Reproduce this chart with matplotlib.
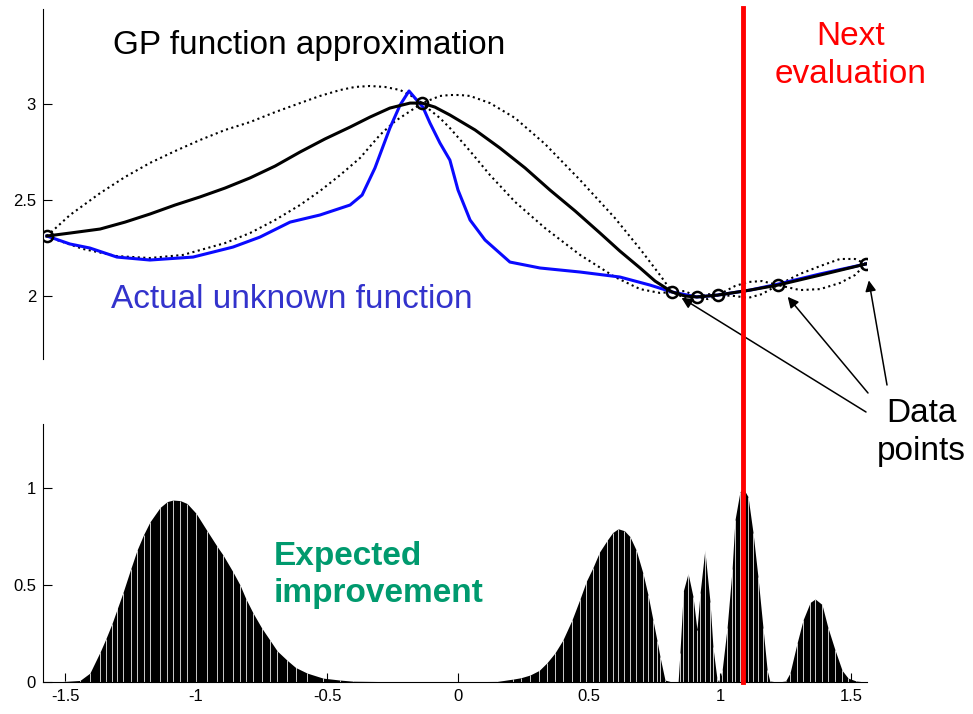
import matplotlib
matplotlib.use("Agg")
import matplotlib.pyplot as plt
import matplotlib.transforms as mtransforms
from matplotlib.lines import Line2D

plt.rcParams.update({
    "font.family": ["Liberation Sans", "DejaVu Sans"],
    "font.size": 12,
    "axes.unicode_minus": False})

# observed samples (x, f(x))
x_obs = [-1.569, -0.137, 0.817, 0.912, 0.992, 1.221, 1.557]
y_obs = [2.3125, 3.005, 2.021, 1.995, 2.005, 2.057, 2.167]

# true objective
x_true = [-1.569, -1.481, -1.405, -1.302, -1.176, -1.011, -0.859, -0.756, -0.641,
          -0.527, -0.412, -0.366, -0.317, -0.260, -0.221, -0.187, -0.164, -0.134,
          -0.107, -0.069, -0.031, 0.0, 0.046, 0.103, 0.198, 0.313, 0.466, 0.618,
          0.733, 0.817, 0.912, 0.992, 1.115, 1.221, 1.382, 1.557]
y_true = [2.3125, 2.271, 2.25, 2.203, 2.1875, 2.203, 2.255, 2.307, 2.385,
          2.422, 2.474, 2.526, 2.667, 2.875, 2.995, 3.068, 3.031, 2.984,
          2.901, 2.797, 2.708, 2.552, 2.396, 2.292, 2.177, 2.146, 2.125, 2.099,
          2.057, 2.021, 1.995, 2.005, 2.031, 2.062, 2.115, 2.167]

# GP posterior mean
x_mean = [-1.569, -1.481, -1.366, -1.271, -1.176, -1.080, -0.985, -0.889, -0.794,
          -0.698, -0.603, -0.508, -0.412, -0.336, -0.260, -0.183, -0.137, -0.088,
          -0.031, 0.065, 0.160, 0.256, 0.351, 0.447, 0.542, 0.618, 0.695, 0.752,
          0.817, 0.866, 0.912, 0.992, 1.115, 1.221, 1.382, 1.557]
y_mean = [2.3125, 2.328, 2.349, 2.385, 2.427, 2.474, 2.516, 2.5625, 2.615,
          2.677, 2.75, 2.818, 2.880, 2.932, 2.979, 3.005, 3.005, 2.984,
          2.943, 2.865, 2.771, 2.667, 2.552, 2.443, 2.328, 2.234, 2.146, 2.078,
          2.021, 2.0, 1.995, 2.005, 2.031, 2.057, 2.109, 2.167]

# GP confidence band
x_upper = [-1.569, -1.481, -1.366, -1.271, -1.176, -1.080, -0.985, -0.889, -0.794,
           -0.698, -0.603, -0.527, -0.450, -0.393, -0.336, -0.279, -0.221, -0.183,
           -0.137, -0.107, -0.069, -0.031, 0.008, 0.046, 0.122, 0.218, 0.332, 0.466,
           0.599, 0.695, 0.771, 0.817, 0.866, 0.912, 0.954, 0.992, 1.057, 1.107,
           1.160, 1.221, 1.305, 1.382, 1.458, 1.515, 1.557]
y_upper = [2.3125, 2.422, 2.536, 2.620, 2.693, 2.755, 2.8125, 2.865, 2.906,
           2.958, 3.005, 3.042, 3.073, 3.089, 3.094, 3.089, 3.073, 3.047,
           3.005, 3.021, 3.042, 3.047, 3.047, 3.042, 3.005, 2.927, 2.792, 2.604,
           2.406, 2.245, 2.109, 2.021, 2.026, 1.995, 2.010, 2.005, 2.052, 2.073,
           2.078, 2.057, 2.115, 2.156, 2.193, 2.193, 2.167]
x_lower = [-1.569, -1.531, -1.431, -1.302, -1.176, -1.050, -0.889, -0.794, -0.698,
           -0.603, -0.527, -0.450, -0.374, -0.298, -0.240, -0.176, -0.137, -0.107,
           -0.069, -0.031, 0.046, 0.122, 0.218, 0.332, 0.466, 0.599, 0.695, 0.771,
           0.817, 0.866, 0.912, 0.954, 0.992, 1.057, 1.107, 1.160, 1.221, 1.305,
           1.382, 1.458, 1.515, 1.557]
y_lower = [2.3125, 2.292, 2.245, 2.208, 2.198, 2.214, 2.276, 2.328, 2.396,
           2.474, 2.547, 2.630, 2.719, 2.839, 2.911, 2.969, 3.005, 2.969,
           2.927, 2.875, 2.755, 2.630, 2.490, 2.354, 2.214, 2.099, 2.036, 2.016,
           2.021, 1.99, 1.995, 1.984, 2.005, 2.0, 1.99, 2.01, 2.057, 2.031,
           2.036, 2.068, 2.109, 2.167]

# expected improvement
x_ei = [-1.58, -1.50, -1.443, -1.405, -1.366, -1.345, -1.321, -1.30, -1.279, -1.25,
        -1.225, -1.20, -1.176, -1.137, -1.11, -1.088, -1.06, -1.034, -1.00, -0.958,
        -0.92, -0.897, -0.86, -0.832, -0.81, -0.782, -0.75, -0.718, -0.69, -0.653,
        -0.62, -0.576, -0.515, -0.45, -0.40, -0.137, 0.15, 0.21, 0.24, 0.275,
        0.31, 0.34, 0.37, 0.40, 0.435, 0.466, 0.49, 0.515, 0.54, 0.569,
        0.59, 0.611, 0.635, 0.656, 0.68, 0.706, 0.725, 0.744, 0.76, 0.771,
        0.79, 0.817, 0.84, 0.847, 0.86, 0.878, 0.897, 0.912, 0.924, 0.942,
        0.962, 0.973, 0.988, 0.995, 1.008, 1.027, 1.046, 1.057, 1.076, 1.088,
        1.107, 1.126, 1.145, 1.164, 1.18, 1.19, 1.221, 1.25, 1.267, 1.294,
        1.317, 1.344, 1.363, 1.389, 1.412, 1.439, 1.466, 1.489, 1.52, 1.557]
ei = [0.0, 0.003, 0.008, 0.046, 0.155, 0.22, 0.30, 0.38, 0.46, 0.58,
      0.68, 0.76, 0.825, 0.90, 0.93, 0.938, 0.935, 0.92, 0.87, 0.78,
      0.70, 0.655, 0.57, 0.50, 0.43, 0.355, 0.28, 0.216, 0.16, 0.113,
      0.075, 0.046, 0.02, 0.01, 0.004, 0.0, 0.003, 0.015, 0.022, 0.036,
      0.06, 0.10, 0.15, 0.216, 0.32, 0.43, 0.52, 0.59, 0.67, 0.73,
      0.77, 0.79, 0.78, 0.75, 0.68, 0.56, 0.45, 0.32, 0.21, 0.13,
      0.01, 0.0, 0.0, 0.15, 0.47, 0.56, 0.44, 0.27, 0.46, 0.68,
      0.41, 0.18, 0.02, 0.0, 0.06, 0.28, 0.58, 0.835, 0.98, 1.0,
      0.955, 0.77, 0.54, 0.28, 0.06, 0.005, 0.0, 0.005, 0.046, 0.2,
      0.32, 0.41, 0.428, 0.40, 0.28, 0.165, 0.06, 0.02, 0.005, 0.0]

x_next = 1.086

W, H = 973, 714
fig = plt.figure(figsize=(W/100, H/100), dpi=100)

def fpos(px, py):
    return px/W, 1 - py/H

xlim = (-1.584, 1.561)

ax1 = fig.add_axes([43/W, 1 - 359/H, 824/W, 350/H])
ax2 = fig.add_axes([43/W, 1 - 682/H, 824/W, 258/H])

# top panel: GP fit
ax1.plot(x_upper, y_upper, ':', color='k', lw=1.5, zorder=2)
ax1.plot(x_lower, y_lower, ':', color='k', lw=1.5, zorder=2)
ax1.plot(x_true, y_true, '-', color='#0a0aff', lw=2.2, zorder=2.1)
ax1.plot(x_mean, y_mean, '-', color='k', lw=2.2, zorder=2.2)
ax1.plot(x_obs, y_obs, 'o', mfc='none', mec='k', ms=8, mew=1.8, zorder=3)

ax1.set_xlim(xlim)
ax1.set_ylim(1.672, 3.495)
ax1.set_yticks([2, 2.5, 3], ['2', '2.5', '3'])
ax1.set_xticks([])
for s in ['top', 'right', 'bottom']:
    ax1.spines[s].set_visible(False)

# bottom panel: expected improvement as stems
ax2.fill_between(x_ei, 0, ei, color='black', lw=0)
ax2.vlines(x_ei, 0, ei, color='white', lw=0.7, alpha=0.8)
ax2.set_xlim(xlim)
ax2.set_ylim(0, 1.33)
ax2.set_yticks([0, 0.5, 1], ['0', '0.5', '1'])
ax2.set_xticks([-1.5, -1, -0.5, 0, 0.5, 1, 1.5],
               ['-1.5', '-1', '-0.5', '0', '0.5', '1', '1.5'])
for s in ['top', 'right']:
    ax2.spines[s].set_visible(False)

for ax in (ax1, ax2):
    ax.tick_params(direction='in', length=6.5, width=0.8, labelsize=12, pad=5)
    for s in ax.spines.values():
        s.set_linewidth(0.8)

# next evaluation marker spanning both panels
trans = mtransforms.blended_transform_factory(ax2.transData, fig.transFigure)
fig.add_artist(Line2D([x_next, x_next], [1 - 682/H, 1 - 8/H], transform=trans,
                      color='red', lw=3.5, zorder=5))

# labels
fig.text(*fpos(113, 54), "GP function approximation", fontsize=24,
         ha='left', va='baseline')
fig.text(*fpos(111, 308), "Actual unknown function", fontsize=24,
         color='#3333cc', ha='left', va='baseline')
for txt, py in [("Next", 45), ("evaluation", 83)]:
    fig.text(*fpos(851, py), txt, fontsize=24, color='red',
             ha='center', va='baseline')
for txt, py in [("Data", 422), ("points", 460)]:
    fig.text(*fpos(921, py), txt, fontsize=24, ha='center', va='baseline')
for txt, py in [("Expected", 565), ("improvement", 602)]:
    fig.text(*fpos(274, py), txt, fontsize=24, fontweight='bold',
             color='#009a6e', ha='left', va='baseline')

# arrows pointing at some of the samples
for i, (tx, ty), shrink in [(2, (866, 412), 8), (5, (868, 393), 11), (6, (887, 385), 12)]:
    ax1.annotate('', xy=(x_obs[i], y_obs[i]), xycoords='data',
                 xytext=(tx, H - ty), textcoords='figure pixels',
                 arrowprops=dict(arrowstyle='-|>', color='k', lw=1.1,
                                 shrinkA=0, shrinkB=shrink, mutation_scale=16))

fig.savefig("out.png", dpi=100)
